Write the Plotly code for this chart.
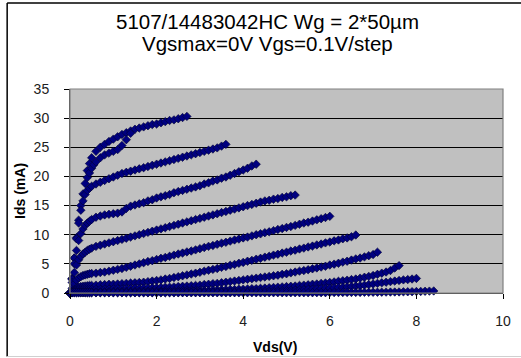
import plotly.graph_objects as go

# ---------------- data ----------------
TITLE_1 = "5107/14483042HC Wg = 2*50µm"
TITLE_2 = "Vgsmax=0V Vgs=0.1V/step"
X_TITLE = "Vds(V)"
Y_TITLE = "Ids (mA)"

X_TICKS = [0, 2, 4, 6, 8, 10]
Y_TICKS = [0, 5, 10, 15, 20, 25, 30, 35]

# shared Vds sweep points (V)
VDS = [0.0, 0.05, 0.1, 0.15, 0.2, 0.25, 0.3, 0.35, 0.4, 0.45,
       0.5, 0.6, 0.7, 0.8, 0.9, 1.0, 1.1, 1.2, 1.3, 1.4,
       1.5, 1.6, 1.7, 1.8, 1.9, 2.0, 2.1, 2.2, 2.3, 2.4,
       2.5, 2.6, 2.7, 2.8, 2.9, 3.0, 3.1, 3.2, 3.3, 3.4,
       3.5, 3.6, 3.7, 3.8, 3.9, 4.0, 4.1, 4.2, 4.3, 4.4,
       4.5, 4.6, 4.7, 4.8, 4.9, 5.0, 5.1, 5.2, 5.3, 5.4,
       5.5, 5.6, 5.7, 5.8, 5.9, 6.0, 6.1, 6.2, 6.3, 6.4,
       6.5, 6.6, 6.7, 6.8, 6.9, 7.0, 7.1, 7.2, 7.3, 7.4,
       7.5, 7.6, 7.7, 7.8, 7.9, 8.0, 8.1, 8.2, 8.3, 8.4]

# Ids (mA) per gate step
IDS_VGS_0 = [0, 2.5, 6.0, 9.5, 12.5, 15.0, 17.0, 18.8, 21.0, 22.2,
             23.2, 24.3, 25.0, 25.5, 26.0, 26.4, 26.8, 27.2, 27.5, 27.8,
             28.1, 28.3, 28.5, 28.7, 28.9, 29.0, 29.2, 29.4, 29.6, 29.7,
             29.9, 30.1, 30.3]
# second (lower) branch of the top curve around the knee
VDS_VGS_0_B = [0.4, 0.45, 0.5, 0.55, 0.6, 0.7, 0.8, 0.9, 1.0, 1.1, 1.2, 1.3, 1.4]
IDS_VGS_0_B = [19.8, 20.6, 21.4, 22.0, 22.5, 23.2, 23.7, 24.0, 24.3, 24.6, 25.3, 26.3, 27.4]

IDS_VGS_M01 = [0, 2.5, 6.0, 9.3, 12.0, 14.2, 15.8, 16.9, 17.6, 18.0,
               18.3, 18.7, 19.0, 19.3, 19.6, 19.9, 20.2, 20.5, 20.7, 20.9,
               21.1, 21.3, 21.5, 21.7, 21.9, 22.1, 22.3, 22.5, 22.7, 22.9,
               23.1, 23.3, 23.5, 23.7, 23.9, 24.1, 24.3, 24.5, 24.7, 24.9,
               25.2, 25.5]
IDS_VGS_M02 = [0, 2.3, 5.0, 7.3, 9.0, 10.2, 11.0, 11.6, 12.0, 12.3,
               12.6, 13.0, 13.2, 13.4, 13.5, 13.6, 13.7, 13.9, 14.5, 14.9,
               15.1, 15.3, 15.5, 15.8, 16.0, 16.3, 16.5, 16.7, 16.9, 17.2,
               17.4, 17.6, 17.8, 18.0, 18.2, 18.4, 18.7, 18.9, 19.2, 19.4,
               19.7, 19.9, 20.2, 20.5, 20.8, 21.1, 21.4, 21.8, 22.1]
IDS_VGS_M03 = [0, 1.8, 3.5, 4.8, 5.7, 6.3, 6.7, 7.0, 7.3, 7.5,
               7.7, 8.0, 8.2, 8.4, 8.6, 8.8, 9.0, 9.2, 9.4, 9.6,
               9.8, 10.0, 10.2, 10.4, 10.6, 10.8, 11.0, 11.2, 11.4, 11.6,
               11.8, 12.0, 12.2, 12.4, 12.6, 12.8, 13.0, 13.2, 13.4, 13.6,
               13.8, 14.0, 14.2, 14.4, 14.6, 14.8, 15.0, 15.2, 15.4, 15.6,
               15.8, 15.9, 16.1, 16.2, 16.4, 16.5, 16.7, 16.8]
IDS_VGS_M04 = [0, 0.8, 1.6, 2.2, 2.6, 2.8, 3.0, 3.1, 3.2, 3.3,
               3.35, 3.4, 3.5, 3.6, 3.75, 3.9, 4.05, 4.2, 4.4, 4.6,
               4.8, 5.0, 5.2, 5.4, 5.55, 5.75, 5.95, 6.1, 6.3, 6.5,
               6.7, 6.85, 7.05, 7.2, 7.4, 7.6, 7.8, 8.0, 8.15, 8.35,
               8.55, 8.7, 8.9, 9.1, 9.25, 9.45, 9.6, 9.8, 10.0, 10.15,
               10.35, 10.5, 10.7, 10.9, 11.05, 11.25, 11.4, 11.6, 11.8, 12.0,
               12.15, 12.35, 12.55, 12.75, 12.95, 13.15]
IDS_VGS_M05 = [0, 0.3, 0.6, 0.8, 1.0, 1.1, 1.15, 1.2, 1.25, 1.3,
               1.3, 1.35, 1.4, 1.45, 1.5, 1.5, 1.55, 1.6, 1.65, 1.7,
               1.75, 1.8, 1.85, 1.95, 2.05, 2.15, 2.25, 2.4, 2.5, 2.65,
               2.8, 2.95, 3.1, 3.25, 3.4, 3.55, 3.75, 3.9, 4.05, 4.2,
               4.4, 4.55, 4.75, 4.9, 5.1, 5.25, 5.45, 5.6, 5.8, 5.95,
               6.15, 6.3, 6.5, 6.65, 6.85, 7.0, 7.2, 7.35, 7.55, 7.7,
               7.9, 8.05, 8.25, 8.4, 8.6, 8.75, 8.95, 9.1, 9.3, 9.45,
               9.65, 9.95]
IDS_VGS_M06 = [0, 0.2, 0.35, 0.45, 0.5, 0.5, 0.55, 0.55, 0.55, 0.6,
               0.6, 0.6, 0.6, 0.65, 0.65, 0.7, 0.7, 0.7, 0.75, 0.75,
               0.8, 0.8, 0.85, 0.85, 0.9, 0.9, 0.95, 1.0, 1.0, 1.05,
               1.1, 1.15, 1.2, 1.25, 1.3, 1.35, 1.45, 1.5, 1.6, 1.65,
               1.75, 1.85, 1.95, 2.05, 2.15, 2.25, 2.35, 2.45, 2.55, 2.65,
               2.75, 2.85, 2.95, 3.05, 3.2, 3.3, 3.45, 3.6, 3.75, 3.85,
               4.0, 4.15, 4.3, 4.45, 4.6, 4.8, 4.95, 5.1, 5.3, 5.45,
               5.65, 5.85, 6.0, 6.2, 6.4, 6.6, 7.0]
IDS_VGS_M07 = [0, 0.1, 0.15, 0.2, 0.2, 0.2, 0.2, 0.2, 0.2, 0.2,
               0.2, 0.2, 0.2, 0.2, 0.25, 0.25, 0.25, 0.25, 0.25, 0.25,
               0.25, 0.3, 0.3, 0.3, 0.3, 0.3, 0.3, 0.35, 0.35, 0.35,
               0.35, 0.4, 0.4, 0.4, 0.4, 0.45, 0.45, 0.45, 0.5, 0.5,
               0.55, 0.55, 0.6, 0.6, 0.65, 0.65, 0.7, 0.75, 0.75, 0.8,
               0.85, 0.9, 0.95, 1.0, 1.05, 1.1, 1.15, 1.2, 1.3, 1.35,
               1.4, 1.5, 1.55, 1.65, 1.7, 1.8, 1.9, 2.0, 2.1, 2.2,
               2.3, 2.4, 2.55, 2.7, 2.85, 3.0, 3.2, 3.4, 3.6, 3.85,
               4.3, 4.7]
IDS_VGS_M08 = [0, 0.05, 0.08, 0.1, 0.1, 0.1, 0.1, 0.1, 0.1, 0.1,
               0.1, 0.1, 0.1, 0.1, 0.1, 0.1, 0.1, 0.1, 0.1, 0.1,
               0.1, 0.1, 0.1, 0.1, 0.1, 0.1, 0.12, 0.12, 0.12, 0.12,
               0.12, 0.12, 0.12, 0.15, 0.15, 0.15, 0.15, 0.15, 0.15, 0.18,
               0.18, 0.18, 0.2, 0.2, 0.2, 0.22, 0.22, 0.25, 0.25, 0.28,
               0.3, 0.3, 0.32, 0.35, 0.38, 0.4, 0.42, 0.45, 0.5, 0.55,
               0.6, 0.65, 0.7, 0.75, 0.8, 0.85, 0.9, 0.95, 1.0, 1.05,
               1.1, 1.2, 1.25, 1.35, 1.45, 1.55, 1.65, 1.75, 1.85, 1.95,
               2.05, 2.15, 2.25, 2.3, 2.4, 2.5]
IDS_VGS_M09 = [0, 0.02, 0.03, 0.03, 0.03, 0.03, 0.03, 0.03, 0.03, 0.03,
               0.03, 0.03, 0.03, 0.03, 0.03, 0.03, 0.03, 0.03, 0.03, 0.03,
               0.03, 0.03, 0.03, 0.03, 0.03, 0.03, 0.03, 0.03, 0.03, 0.03,
               0.04, 0.04, 0.04, 0.04, 0.04, 0.04, 0.04, 0.04, 0.04, 0.04,
               0.04, 0.04, 0.04, 0.04, 0.04, 0.04, 0.04, 0.04, 0.04, 0.04,
               0.05, 0.05, 0.05, 0.05, 0.05, 0.05, 0.05, 0.05, 0.05, 0.05,
               0.05, 0.05, 0.06, 0.06, 0.06, 0.07, 0.07, 0.08, 0.08, 0.09,
               0.09, 0.1, 0.1, 0.11, 0.12, 0.12, 0.13, 0.14, 0.15, 0.16,
               0.17, 0.18, 0.2, 0.21, 0.23, 0.25, 0.27, 0.29, 0.32, 0.35]

CURVES = [
    ("Vgs=0V", VDS[:len(IDS_VGS_0)], IDS_VGS_0),
    ("Vgs=0V (b)", VDS_VGS_0_B, IDS_VGS_0_B),
    ("Vgs=-0.1V", VDS[:len(IDS_VGS_M01)], IDS_VGS_M01),
    ("Vgs=-0.2V", VDS[:len(IDS_VGS_M02)], IDS_VGS_M02),
    ("Vgs=-0.3V", VDS[:len(IDS_VGS_M03)], IDS_VGS_M03),
    ("Vgs=-0.4V", VDS[:len(IDS_VGS_M04)], IDS_VGS_M04),
    ("Vgs=-0.5V", VDS[:len(IDS_VGS_M05)], IDS_VGS_M05),
    ("Vgs=-0.6V", VDS[:len(IDS_VGS_M06)], IDS_VGS_M06),
    ("Vgs=-0.7V", VDS[:len(IDS_VGS_M07)], IDS_VGS_M07),
    ("Vgs=-0.8V", VDS[:len(IDS_VGS_M08)], IDS_VGS_M08),
    ("Vgs=-0.9V", VDS[:len(IDS_VGS_M09)], IDS_VGS_M09),
]

# ---------------- figure ----------------
W, H = 521, 358
ML, MR, MT, MB = 70, 10, 89, 65
PW, PH = W - ML - MR, H - MT - MB


def px_x(p):
    return (p - ML) / PW


def px_y(p):
    return (H - MB - p) / PH


FONT = "Liberation Sans, Arial, sans-serif"

fig = go.Figure()
for name, xs, ys in CURVES:
    fig.add_trace(go.Scatter(
        x=xs, y=ys, mode="markers", name=name, showlegend=False,
        marker=dict(symbol="diamond", size=6.5, color="#000080",
                    line=dict(width=0.6, color="#000030")),
        cliponaxis=False,
    ))

fig.update_layout(
    width=W, height=H,
    margin=dict(l=ML, r=MR, t=MT, b=MB),
    paper_bgcolor="white",
    plot_bgcolor="#c0c0c0",
    font=dict(family=FONT, size=13, color="black"),
    showlegend=False,
)
fig.update_xaxes(
    range=[0, 10], tickvals=X_TICKS, ticks="outside", ticklen=5,
    tickcolor="black", tickwidth=1, showgrid=False, zeroline=False,
    showline=True, linecolor="#404040", linewidth=1,
    ticklabelstandoff=10, tickfont=dict(size=14, color="#202020"),
)
fig.update_yaxes(
    range=[0, 35], tickvals=Y_TICKS, ticks="outside", ticklen=5,
    tickcolor="black", tickwidth=1, showgrid=True, gridcolor="black",
    gridwidth=1, zeroline=False,
    showline=True, linecolor="#404040", linewidth=1,
    ticklabelstandoff=12, tickfont=dict(size=14, color="#202020"),
)

annotations = [
    dict(text=TITLE_1, x=px_x(271), y=px_y(21.5), font=dict(size=20.5)),
    dict(text=TITLE_2, x=px_x(271), y=px_y(44), font=dict(size=20.5)),
    dict(text="<b>" + X_TITLE + "</b>", x=px_x(279), y=px_y(347), font=dict(size=14)),
    dict(text="<b>" + Y_TITLE + "</b>", x=px_x(19), y=px_y(191), font=dict(size=14),
         textangle=-90),
]
for a in annotations:
    a.update(xref="paper", yref="paper", showarrow=False,
             xanchor="center", yanchor="middle")
fig.update_layout(annotations=annotations)

shapes = [
    # plot-area border (grey)
    dict(type="rect", xref="paper", yref="paper", x0=0, y0=0, x1=1, y1=1,
         line=dict(color="#808080", width=1.2), layer="above"),
    # chart-area frame (left and top edges black, bottom grey)
    dict(type="line", xref="paper", yref="paper", x0=px_x(6), x1=px_x(6),
         y0=px_y(356.5), y1=px_y(3), line=dict(color="black", width=1.5)),
    dict(type="line", xref="paper", yref="paper", x0=px_x(6), x1=px_x(530),
         y0=px_y(3), y1=px_y(3), line=dict(color="black", width=1.5)),
    dict(type="line", xref="paper", yref="paper", x0=px_x(6), x1=px_x(530),
         y0=px_y(356.5), y1=px_y(356.5), line=dict(color="#d0d0d0", width=1)),
]
fig.update_layout(shapes=shapes)

fig.write_html("out.html")
